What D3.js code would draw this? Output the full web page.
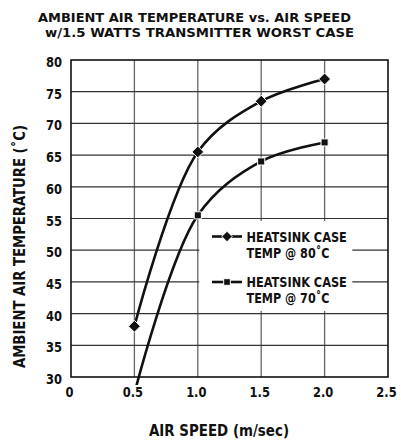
<!DOCTYPE html>
<html>
<head>
<meta charset="utf-8">
<script src="https://cdn.jsdelivr.net/npm/d3@7"></script>
<style>
  body { margin: 0; background: white; }
  text { font-family: "DejaVu Sans Condensed", "DejaVu Sans", sans-serif; font-weight: bold; fill: #111; }
</style>
</head>
<body>
<div id="chart"></div>
<script>
// chart data
const airSpeed = [0.5, 1.0, 1.5, 2.0];
const case80 = [38, 65.5, 73.5, 77];
const case70 = [27.4, 55.5, 64, 67];
const seriesNames = ["HEATSINK CASE", "HEATSINK CASE"];
const seriesSubs = ["TEMP @ 80˚C", "TEMP @ 70˚C"];
const xTicks = [0, 0.5, 1.0, 1.5, 2.0, 2.5];
const yTicks = [30, 35, 40, 45, 50, 55, 60, 65, 70, 75, 80];

const width = 401, height = 445;
const margin = {top: 60, right: 13, bottom: 68, left: 71};

const svg = d3.select("#chart").append("svg")
    .attr("width", width)
    .attr("height", height);

const x = d3.scaleLinear().domain([0, 2.5]).range([margin.left, width - margin.right]);
const y = d3.scaleLinear().domain([30, 80]).range([height - margin.bottom, margin.top]);

// squeeze text horizontally to look like a condensed face
function squeeze(sel, k) {
  sel.each(function() {
    const w = this.getComputedTextLength();
    d3.select(this).attr("textLength", w * k).attr("lengthAdjust", "spacingAndGlyphs");
  });
}
function fitTo(sel, len) {
  sel.attr("textLength", len).attr("lengthAdjust", "spacingAndGlyphs");
}

// title
svg.append("text")
    .attr("x", 194.5).attr("y", 22)
    .attr("text-anchor", "middle")
    .style("font-size", "12px")
    .text("AMBIENT AIR TEMPERATURE vs. AIR SPEED")
    .call(fitTo, 313);
svg.append("text")
    .attr("x", 199.5).attr("y", 36.5)
    .attr("text-anchor", "middle")
    .style("font-size", "12px")
    .text("w/1.5 WATTS TRANSMITTER WORST CASE")
    .call(fitTo, 309);

// grid
const grid = svg.append("g");
grid.selectAll(".vgrid")
    .data(xTicks.slice(1, -1))
    .enter().append("line")
    .attr("x1", d => x(d)).attr("x2", d => x(d))
    .attr("y1", y(30)).attr("y2", y(80))
    .style("stroke", "#666").style("stroke-width", 1.3);
grid.selectAll(".hgrid")
    .data(yTicks.slice(1, -1))
    .enter().append("line")
    .attr("x1", x(0)).attr("x2", x(2.5))
    .attr("y1", d => y(d)).attr("y2", d => y(d))
    .style("stroke", "#333").style("stroke-width", 1.2);

// legend box covers the grid
const lg = svg.append("g");
lg.append("rect")
    .attr("x", x(1.0) + 1.5).attr("y", 221)
    .attr("width", 153).attr("height", 90)
    .style("fill", "white");

svg.append("rect")
    .attr("x", x(0)).attr("y", y(80))
    .attr("width", x(2.5) - x(0)).attr("height", y(30) - y(80))
    .style("fill", "none").style("stroke", "#111").style("stroke-width", 1.6);

// axes labels
svg.selectAll(".ylab")
    .data(yTicks)
    .enter().append("text")
    .attr("x", 62).attr("y", d => y(d) + 7)
    .attr("text-anchor", "end")
    .style("font-size", "14.5px")
    .text(d => d)
    .call(squeeze, 0.88);

svg.selectAll(".xlab")
    .data(xTicks)
    .enter().append("text")
    .attr("x", d => x(d) - 1.5).attr("y", 397)
    .attr("text-anchor", "middle")
    .style("font-size", "14.5px")
    .text(d => d === 0 ? "0" : d.toFixed(1))
    .call(squeeze, 0.88);

svg.append("text")
    .attr("x", 219).attr("y", 436)
    .attr("text-anchor", "middle")
    .style("font-size", "15px")
    .text("AIR SPEED (m/sec)")
    .call(fitTo, 140);

svg.append("text")
    .attr("transform", "translate(24.5,246.5) rotate(-90)")
    .attr("text-anchor", "middle")
    .style("font-size", "16px")
    .text("AMBIENT AIR TEMPERATURE (˚C)")
    .call(fitTo, 243);

// lines
svg.append("clipPath").attr("id", "clip")
  .append("rect")
    .attr("x", x(0)).attr("y", y(80) - 10)
    .attr("width", x(2.5) - x(0) + 10).attr("height", y(30) - y(80) + 18);

const line = d3.line()
    .x(d => x(d[0]))
    .y(d => y(d[1]))
    .curve(d3.curveCatmullRom.alpha(0.5));

const series = [d3.zip(airSpeed, case80), d3.zip(airSpeed, case70)];
const symbols = [d3.symbolDiamond2, d3.symbolSquare2];

svg.selectAll(".series")
    .data(series)
    .enter().append("path")
    .attr("clip-path", "url(#clip)")
    .attr("d", line)
    .style("fill", "none")
    .style("stroke", "#111")
    .style("stroke-width", 2.6);

series.forEach(function(s, i) {
  svg.selectAll(".pt" + i)
      .data(s.filter(d => d[1] >= 30))
      .enter().append("path")
      .attr("transform", d => "translate(" + x(d[0]) + "," + y(d[1]) + ")")
      .attr("d", d3.symbol().type(symbols[i]).size(i === 0 ? 90 : 64))
      .style("fill", "#111")
      .style("stroke", "white")
      .style("stroke-width", 1);
});

// legend
const legendY = [236.5, 282];
const subY = [258.3, 302.7];
legendY.forEach(function(ly, i) {
  lg.append("line")
      .attr("x1", 212).attr("x2", 242)
      .attr("y1", ly).attr("y2", ly)
      .style("stroke", "#111").style("stroke-width", 2.6);
  lg.append("path")
      .attr("transform", "translate(227," + ly + ")")
      .attr("d", d3.symbol().type(symbols[i]).size(i === 0 ? 70 : 56))
      .style("fill", "#111")
      .style("stroke", "white")
      .style("stroke-width", 1);
  lg.append("text")
      .attr("x", 246.5).attr("y", ly + 5.2)
      .style("font-size", "14px")
      .text(seriesNames[i])
      .call(squeeze, 0.9);
  lg.append("text")
      .attr("x", 246.5).attr("y", subY[i])
      .style("font-size", "14px")
      .text(seriesSubs[i])
      .call(fitTo, 83);
});
</script>
</body>
</html>
